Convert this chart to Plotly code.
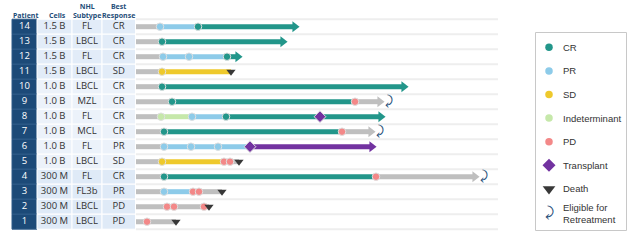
import plotly.graph_objects as go

W, H = 640, 245

# ---------------- table data ----------------
patients = [14, 13, 12, 11, 10, 9, 8, 7, 6, 5, 4, 3, 2, 1]
cells = ["1.5 B"] * 4 + ["1.0 B"] * 6 + ["300 M"] * 4
subtype = ["FL", "LBCL", "FL", "LBCL", "LBCL", "MZL", "FL", "MCL", "FL", "LBCL", "FL", "FL3b", "LBCL", "LBCL"]
best = ["CR", "CR", "CR", "SD", "CR", "CR", "CR", "CR", "PR", "SD", "CR", "PR", "PD", "PD"]
headers = ["Patient", "Cells", "NHL<br>Subtype", "Best<br>Response"]

# ---------------- swimmer data (months) ----------------
seg_patient = [14, 14, 14, 13, 13, 12, 12, 12, 11, 11, 10, 10, 9, 9, 9,
               8, 8, 8, 8, 7, 7, 7, 6, 6, 6, 5, 5, 5, 4, 4, 4, 3, 3, 3, 2, 1]
seg_start = [0, 2.4, 6.2, 0, 2.6, 0, 2.7, 9.1, 0, 2.6, 0, 2.6, 0, 3.6, 21.9,
             0, 2.5, 5.6, 9.0, 0, 2.8, 20.6, 0, 2.8, 11.4, 0, 2.6, 8.8, 0, 2.8, 24.0, 0, 2.8, 5.7, 0, 0]
seg_end = [2.4, 6.2, 16.4, 2.6, 15.2, 2.7, 9.1, 10.7, 2.6, 9.5, 2.6, 27.3, 3.6, 21.9, 24.9,
           2.5, 5.6, 9.0, 25.0, 2.8, 20.6, 24.0, 2.8, 11.4, 24.1, 2.6, 8.8, 10.3, 2.8, 24.0, 34.4, 2.8, 5.7, 8.6, 7.3, 4.0]
seg_state = ["Off", "PR", "CR", "Off", "CR", "Off", "PR", "CR", "Off", "SD", "Off", "CR", "Off", "CR", "Off",
             "Off", "Indeterminant", "PR", "CR", "Off", "CR", "Off", "Off", "PR", "Transplant",
             "Off", "SD", "Off", "Off", "CR", "Off", "Off", "PR", "Off", "Off", "Off"]

arrow_patient = [14, 13, 12, 10, 9, 8, 7, 6, 4]
arrow_tip = [16.4, 15.2, 10.7, 27.3, 24.9, 25.0, 24.0, 24.1, 34.4]

ev_patient = [14, 14, 13, 12, 12, 12, 11, 10, 9, 9, 8, 8, 8, 7, 7, 6, 6, 6, 5, 5, 5, 4, 4, 3, 3, 3, 2, 2, 2, 1]
ev_time = [2.4, 6.2, 2.6, 2.7, 5.3, 9.1, 2.6, 2.6, 3.6, 21.9, 2.5, 5.6, 9.0, 2.8, 20.6, 2.8, 5.5, 8.2,
           2.6, 8.8, 9.4, 2.8, 24.0, 2.8, 5.7, 6.3, 3.1, 3.8, 6.8, 1.1]
ev_type = ["PR", "CR", "CR", "PR", "PR", "CR", "SD", "CR", "CR", "PD", "Indeterminant", "PR", "CR", "CR", "PD",
           "PR", "PR", "PR", "SD", "PD", "PD", "CR", "PD", "PR", "PD", "PD", "PD", "PD", "PD", "PD"]

transplant_patient = [8, 6]
transplant_time = [18.4, 11.4]

death_patient = [11, 5, 3, 2, 1]
death_time = [9.5, 10.3, 8.6, 7.3, 4.0]

retreat_patient = [9, 7, 4]
retreat_time = [25.3, 24.4, 34.8]

legend_labels = ["CR", "PR", "SD", "Indeterminant", "PD", "Transplant", "Death", "Eligible for<br>Retreatment"]

# ---------------- styles ----------------
colors = {"Off": "#bfbfbf", "CR": "#22968a", "PR": "#8dcbe9", "SD": "#eec92c",
          "Indeterminant": "#c6e8aa", "PD": "#f38888", "Transplant": "#7232a0"}
death_color = "#383838"
retreat_color = "#1f4e79"
navy = "#1c4a78"
header_color = "#1f4e79"
row_bg = {"1.5 B": "#e2ecf8", "1.0 B": "#ecf2fa", "300 M": "#dfeaf7"}

PX_PER_MONTH = 10.0
X0_PX = 136
X_END = (498 - X0_PX) / PX_PER_MONTH
y_lo = 1 - (H - 221.7) / 15.0
y_hi = 1 + 221.7 / 15.0

fig = go.Figure()

# ---------------- table (x2 axis) ----------------
col_edges = [12, 37, 72, 102, 135.5]
shapes = []
for i, p in enumerate(patients):
    shapes.append(dict(type="rect", xref="x2", yref="y", x0=col_edges[0], x1=col_edges[1],
                       y0=p - 0.5, y1=p + 0.5, fillcolor=navy, line=dict(color="#2d5a88", width=1),
                       layer="below"))
    for c in range(1, 4):
        shapes.append(dict(type="rect", xref="x2", yref="y", x0=col_edges[c], x1=col_edges[c + 1],
                           y0=p - 0.5, y1=p + 0.5, fillcolor=row_bg[cells[i]],
                           line=dict(color="white", width=1), layer="below"))

# swimmer lane separators
for k in range(0, 15):
    shapes.append(dict(type="line", xref="x", yref="y", x0=0, x1=X_END, y0=k + 0.5, y1=k + 0.5,
                       line=dict(color="#eeeeee", width=2), layer="below"))

centers = [(col_edges[i] + col_edges[i + 1]) / 2 for i in range(4)]
body_font = dict(family="Open Sans", size=9.5, color="#333333")
fig.add_trace(go.Scatter(x=[centers[0]] * 14, y=patients, text=[str(p) for p in patients], mode="text",
                         textfont=dict(family="Open Sans", size=9.5, color="white"),
                         xaxis="x2", yaxis="y", hoverinfo="skip", showlegend=False))
for ci, col in zip(centers[1:], [cells, subtype, best]):
    fig.add_trace(go.Scatter(x=[ci] * 14, y=patients, text=col, mode="text", textfont=body_font,
                             xaxis="x2", yaxis="y", hoverinfo="skip", showlegend=False))

annotations = []
hdr_font = dict(family="Noto Sans", size=7, color=header_color)
def yv(px):
    return 1 + (221.7 - px) / 15.0
for txt, xc in zip(headers, [25, 57, 86.5, 118.5]):
    two = "<br>" in txt
    annotations.append(dict(x=xc, y=yv(10.6 if two else 15), xref="x2", yref="y",
                            text="<br>".join("<b>%s</b>" % t for t in txt.split("<br>")),
                            showarrow=False, font=hdr_font, xanchor="center", yanchor="middle",
                            borderpad=0, align="center"))

# ---------------- swimmer bars ----------------
arrow_base = {p: t - 0.6 for p, t in zip(arrow_patient, arrow_tip)}
for state in ["Off", "Indeterminant", "PR", "SD", "CR", "Transplant"]:
    xs, ys = [], []
    for p, s, e, st in zip(seg_patient, seg_start, seg_end, seg_state):
        if st != state:
            continue
        if p in arrow_base and abs(e - arrow_tip[arrow_patient.index(p)]) < 1e-9:
            e = arrow_base[p]
        xs += [s, e, None]
        ys += [p, p, None]
    fig.add_trace(go.Scatter(x=xs, y=ys, mode="lines", line=dict(color=colors[state], width=5),
                             hoverinfo="skip", showlegend=False))

# arrow heads (colour of final segment)
arrow_colors = []
for p, t in zip(arrow_patient, arrow_tip):
    st = [s for pp, s, e in zip(seg_patient, seg_state, seg_end) if pp == p and abs(e - t) < 1e-9][0]
    arrow_colors.append(colors[st])
fig.add_trace(go.Scatter(x=[t - 0.52 for t in arrow_tip], y=arrow_patient, mode="markers",
                         marker=dict(symbol="triangle-right", size=9.5, color=arrow_colors, line=dict(width=0)),
                         hoverinfo="skip", showlegend=False))

# response events
fig.add_trace(go.Scatter(x=ev_time, y=ev_patient, mode="markers",
                         marker=dict(symbol="circle", size=7.5, color=[colors[t] for t in ev_type],
                                     line=dict(color="#e0e0e0", width=1)),
                         hoverinfo="skip", showlegend=False))
fig.add_trace(go.Scatter(x=transplant_time, y=transplant_patient, mode="markers",
                         marker=dict(symbol="diamond", size=9, color=colors["Transplant"],
                                     line=dict(color="#e0e0e0", width=1)),
                         hoverinfo="skip", showlegend=False))
fig.add_trace(go.Scatter(x=death_time, y=death_patient, mode="markers",
                         marker=dict(symbol="triangle-down", size=8, color=death_color, line=dict(width=0)),
                         hoverinfo="skip", showlegend=False))
fig.add_trace(go.Scatter(x=retreat_time, y=retreat_patient, mode="text", text=["⤸"] * len(retreat_time),
                         textfont=dict(family="DejaVu Sans", size=13, color=retreat_color),
                         hoverinfo="skip", showlegend=False))

# ---------------- legend (x3/y3 pixel axes) ----------------
shapes.append(dict(type="rect", xref="x3", yref="y3", x0=535.5, x1=626.5, y0=32.5, y1=230.5,
                   line=dict(color="#c8c8c8", width=1), fillcolor="rgba(0,0,0,0)"))
leg_y = [47.3 + i * 23.6 for i in range(len(legend_labels))]
leg_y[-1] = 213.5
circ_states = ["CR", "PR", "SD", "Indeterminant", "PD"]
fig.add_trace(go.Scatter(x=[549] * 5, y=leg_y[:5], mode="markers",
                         marker=dict(symbol="circle", size=7.5, color=[colors[s] for s in circ_states]),
                         xaxis="x3", yaxis="y3", hoverinfo="skip", showlegend=False))
fig.add_trace(go.Scatter(x=[549], y=[leg_y[5]], mode="markers",
                         marker=dict(symbol="diamond", size=10, color=colors["Transplant"]),
                         xaxis="x3", yaxis="y3", hoverinfo="skip", showlegend=False))
fig.add_trace(go.Scatter(x=[549], y=[leg_y[6]], mode="markers",
                         marker=dict(symbol="triangle-down", size=11, color=death_color),
                         xaxis="x3", yaxis="y3", hoverinfo="skip", showlegend=False))
fig.add_trace(go.Scatter(x=[549], y=[leg_y[7]], mode="text", text=["⤸"],
                         textfont=dict(family="DejaVu Sans", size=14, color=retreat_color),
                         xaxis="x3", yaxis="y3", hoverinfo="skip", showlegend=False))
for lab, ly in zip(legend_labels, leg_y):
    annotations.append(dict(x=561, y=ly, xref="x3", yref="y3", text=lab, showarrow=False, align="left",
                            font=dict(family="Liberation Sans", size=9.5, color="#333333"),
                            xanchor="left", yanchor="middle"))

hidden = dict(showgrid=False, zeroline=False, showticklabels=False, ticks="", showline=False, fixedrange=True)
fig.update_layout(
    width=W, height=H, margin=dict(l=0, r=0, t=0, b=0),
    paper_bgcolor="white", plot_bgcolor="rgba(0,0,0,0)",
    xaxis=dict(domain=[X0_PX / W, 1], range=[0, (W - X0_PX) / PX_PER_MONTH], **hidden),
    yaxis=dict(domain=[0, 1], range=[y_lo, y_hi], **hidden),
    xaxis2=dict(domain=[0, X0_PX / W], range=[0, X0_PX], anchor="y", **hidden),
    xaxis3=dict(domain=[0, 1], range=[0, W], anchor="y3", **hidden),
    yaxis3=dict(domain=[0, 1], range=[H, 0], anchor="x3", **hidden),
    shapes=shapes, annotations=annotations, showlegend=False,
)

fig.write_html("out.html")
